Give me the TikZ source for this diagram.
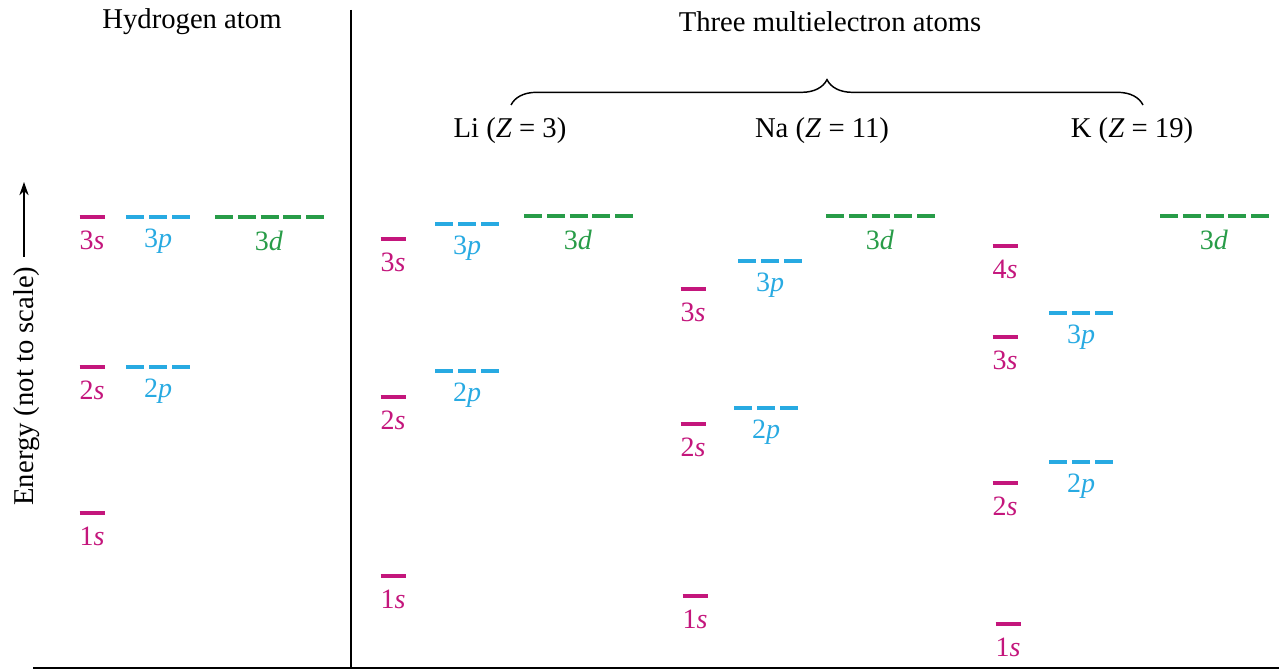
\documentclass[tikz,border=0pt]{standalone}
\usepackage{fontspec}
\setmainfont{Liberation Serif}
\usetikzlibrary{decorations.pathreplacing,arrows.meta}
\definecolor{smag}{RGB}{196,22,124}
\definecolor{pblue}{RGB}{40,170,226}
\definecolor{dgreen}{RGB}{40,156,72}
\newcommand{\slv}[4]{% name, x, y, label
  \draw[slev] (#2-12.5,#3) -- (#2+12.5,#3);
  \node[lab,smag] (#1) at (#2,#3+23) {#4\textit{s}};}
\newcommand{\plv}[4]{% name, x(left), y, label
  \draw[plev] (#2,#3) -- (#2+64,#3);
  \node[lab,pblue] (#1) at (#2+32,#3+24) {#4\textit{p}};}
\newcommand{\dlv}[4]{% name, x(left), y, label
  \draw[dlev] (#2,#3) -- (#2+109,#3);
  \node[lab,dgreen] (#1) at (#2+54,#3+24) {#4\textit{d}};}
\begin{document}
\begin{tikzpicture}[x=0.75pt,y=-0.75pt,
  lev/.style={line width=2.3pt},
  slev/.style={lev,smag},
  plev/.style={lev,pblue,dash pattern=on 13.5pt off 3.75pt},
  dlev/.style={lev,dgreen,dash pattern=on 13.5pt off 3.6pt},
  lab/.style={font=\fontsize{21}{25}\selectfont, inner sep=0pt},
  title/.style={font=\fontsize{21.5}{26}\selectfont, inner sep=0pt},
  axis/.style={line width=1.6pt, black}]
\useasboundingbox (0,0) rectangle (1279,670);
% axes
\coordinate (bl) at (33,668);
\coordinate (br) at (1279,668);
\coordinate (vt) at (351,10);
\coordinate (vb) at (351,668);
\draw[axis] (bl) -- (br);
\draw[axis, line width=2pt] (vt) -- (vb);
% titles
\node[title] (hyd) at (192,22) {Hydrogen atom};
\node[title] (multi) at (830,22) {Three multielectron atoms};
\node[title] (li) at (510,131) {Li (\textit{Z} = 3)};
\node[title] (na) at (822,131) {Na (\textit{Z} = 11)};
\node[title] (k) at (1132,131) {K (\textit{Z} = 19)};
\coordinate (brL) at (511,105);
\coordinate (brR) at (1143,105);
\draw[line width=1.1pt, decorate, decoration={brace, amplitude=19pt}] (brL) -- (brR);
% energy axis
\node[title, rotate=90] (energy) at (27,386) {Energy (not to scale)};
\coordinate (arrB) at (24,257);
\coordinate (arrT) at (24,182);
\draw[line width=1pt, -{Stealth[length=10pt,width=7pt]}] (arrB) -- (arrT);
% Hydrogen
\slv{h3s}{92}{217}{3}
\plv{h3p}{126}{217}{3}
\dlv{h3d}{215}{217}{3}
\slv{h2s}{92}{367}{2}
\plv{h2p}{126}{367}{2}
\slv{h1s}{92}{513}{1}
% Li
\slv{li3s}{393}{239}{3}
\plv{li3p}{435}{224}{3}
\dlv{li3d}{524}{216}{3}
\slv{li2s}{393}{397}{2}
\plv{li2p}{435}{371}{2}
\slv{li1s}{393}{576}{1}
% Na
\slv{na3s}{693}{289}{3}
\plv{na3p}{738}{261}{3}
\dlv{na3d}{826}{216}{3}
\slv{na2s}{693}{424}{2}
\plv{na2p}{734}{408}{2}
\slv{na1s}{695}{596}{1}
% K
\slv{k4s}{1005}{246}{4}
\slv{k3s}{1005}{337}{3}
\plv{k3p}{1049}{313}{3}
\slv{k2s}{1005}{483}{2}
\plv{k2p}{1049}{462}{2}
\slv{k1s}{1008}{624}{1}
\dlv{k3d}{1160}{216}{3}
\end{tikzpicture}
\end{document}
